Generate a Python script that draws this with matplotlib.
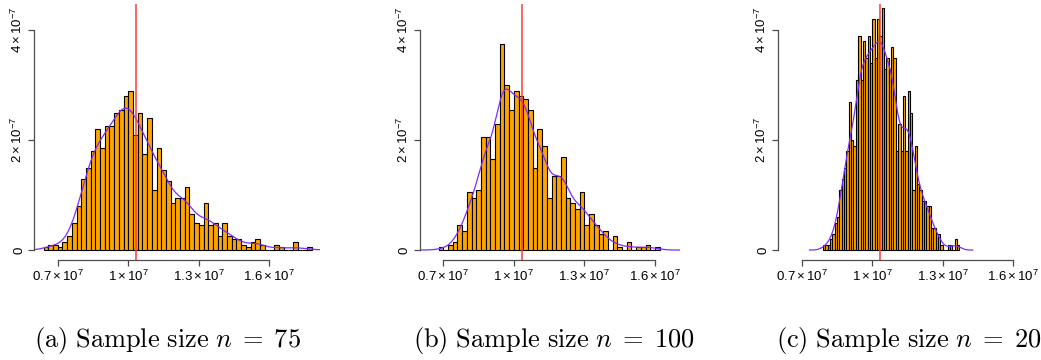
import matplotlib.pyplot as plt
import numpy as np

plt.rcParams['font.family'] = ['Liberation Sans', 'DejaVu Sans']
plt.rcParams['mathtext.fontset'] = 'custom'
plt.rcParams['mathtext.rm'] = 'Liberation Sans'
plt.rcParams['mathtext.it'] = 'Liberation Sans:italic'
plt.rcParams['mathtext.bf'] = 'Liberation Sans:bold'

# histogram densities, in units of 1e-7 (first break, bin width, heights)
start_a, width_a = 6.4e6, 2e5
dens_a = [0.05, 0.10, 0.10, 0.05, 0.15, 0.25, 0.50, 0.80, 1.30, 1.50,
          1.80, 2.20, 1.85, 2.25, 2.25, 2.50, 2.55, 2.80, 2.90, 2.10,
          2.50, 1.75, 2.40, 1.10, 1.85, 1.45, 1.25, 0.85, 0.95, 0.95,
          1.15, 0.65, 0.50, 0.45, 0.85, 0.45, 0.50, 0.25, 0.50, 0.25,
          0.20, 0.20, 0.10, 0.05, 0.15, 0.20, 0.10, 0.00, 0.00, 0.10,
          0.05, 0.00, 0.00, 0.15, 0.00, 0.00, 0.05]

start_b, width_b = 6.8e6, 2e5
dens_b = [0.05, 0.00, 0.10, 0.15, 0.45, 0.35, 1.05, 0.95, 1.10, 2.05,
          2.05, 1.65, 2.30, 3.75, 3.00, 2.55, 2.90, 2.80, 2.75, 2.55,
          1.50, 2.20, 1.90, 0.95, 1.35, 1.35, 1.70, 0.95, 0.85, 0.75,
          1.05, 0.45, 0.65, 0.45, 0.30, 0.35, 0.00, 0.25, 0.05, 0.00,
          0.15, 0.00, 0.05, 0.05, 0.10, 0.00, 0.05]

start_c, width_c = 7.9e6, 1e5
dens_c = [0.1, 0.1, 0.1, 0.2, 0.3, 0.5, 0.6, 1.1, 1.3, 1.5,
          1.8, 2.7, 2.0, 1.9, 3.1, 3.9, 3.1, 3.8, 3.5, 3.9,
          3.4, 4.2, 3.5, 4.2, 3.9, 4.4, 3.3, 3.5, 3.3, 3.7,
          3.5, 1.8, 2.3, 1.8, 2.8, 1.8, 2.9, 2.5, 1.1, 1.9,
          1.2, 1.1, 0.9, 0.9, 0.8, 0.8, 0.4, 0.4, 0.3, 0.3,
          0.1, 0.0, 0.0, 0.1, 0.1, 0.0, 0.2, 0.1]

captions = [r'$\mathrm{(a)\ Sample\ size}\ n \;=\; 75$',
            r'$\mathrm{(b)\ Sample\ size}\ n \;=\; 100$',
            r'$\mathrm{(c)\ Sample\ size}\ n \;=\; 200$']
true_value = 1.034e7

xticks = [0.7e7, 1.0e7, 1.3e7, 1.6e7]
xtick_labels = [r'$0.7\times10^{7}$', r'$1\times10^{7}$',
                r'$1.3\times10^{7}$', r'$1.6\times10^{7}$']
yticks = [0, 2e-7, 4e-7]
ytick_labels = ['0', r'$2\times10^{-7}$', r'$4\times10^{-7}$']

# kernel bandwidth used for the density line of each panel
bandwidths = [3.4e5, 2.8e5, 1.9e5]


def kde_from_hist(start, width, dens, bw):
    dens = np.asarray(dens) * 1e-7
    edges = start + width * np.arange(len(dens) + 1)
    mids = edges[:-1] + width / 2
    prob = dens * width
    sig = np.sqrt(bw ** 2 + width ** 2 / 12)
    xs = np.linspace(edges[0] - 3 * bw, edges[-1] + 3 * bw, 512)
    z = (xs[:, None] - mids[None, :]) / sig
    ys = (prob[None, :] * np.exp(-0.5 * z ** 2)).sum(1)
    ys = ys / (sig * np.sqrt(2 * np.pi)) / prob.sum()
    return xs, ys


W, H = 1041, 360
fig = plt.figure(figsize=(W / 100, H / 100), dpi=100)

panels = [(start_a, width_a, dens_a), (start_b, width_b, dens_b),
          (start_c, width_c, dens_c)]
lefts = [34.2, 419.8, 778.2]
cap_x = [168, 554, 915]
top, bottom = 4, 259.5

for k, (start, width, dens) in enumerate(panels):
    ax = fig.add_axes([lefts[k] / W, 1 - bottom / H, 286 / W, (bottom - top) / H])
    ax.patch.set_alpha(0)
    edges = start + width * np.arange(len(dens) + 1)
    ax.bar(edges[:-1], np.asarray(dens) * 1e-7, width=width, align='edge',
           color='#FFA500', edgecolor='black', linewidth=0.8)
    xs, ys = kde_from_hist(start, width, dens, bandwidths[k])
    ax.plot(xs, ys, color='#7B2CFF', lw=0.9)
    ax.axvline(true_value, color='#FF3B3B', lw=1.1)

    ax.set_xlim(0.6e7, 1.816e7)
    ax.set_ylim(-0.172e-7, 4.474e-7)
    for s in ['top', 'right']:
        ax.spines[s].set_visible(False)
    ax.spines['bottom'].set_bounds(xticks[0], xticks[-1])
    ax.spines['left'].set_bounds(yticks[0], yticks[-1])
    for s in ['bottom', 'left']:
        ax.spines[s].set_color('#4d4d4d')
        ax.spines[s].set_linewidth(0.9)
    ax.set_xticks(xticks, xtick_labels, fontsize=9.5)
    ax.set_yticks(yticks, ytick_labels, fontsize=9.5, rotation=90, va='center')
    ax.tick_params(length=4, width=0.9, color='#4d4d4d', pad=2.5)

    fig.text(cap_x[k] / W, 1 - 341 / H, captions[k], ha='center', va='center',
             fontsize=19, math_fontfamily='cm')

fig.savefig('out.png', dpi=100)
